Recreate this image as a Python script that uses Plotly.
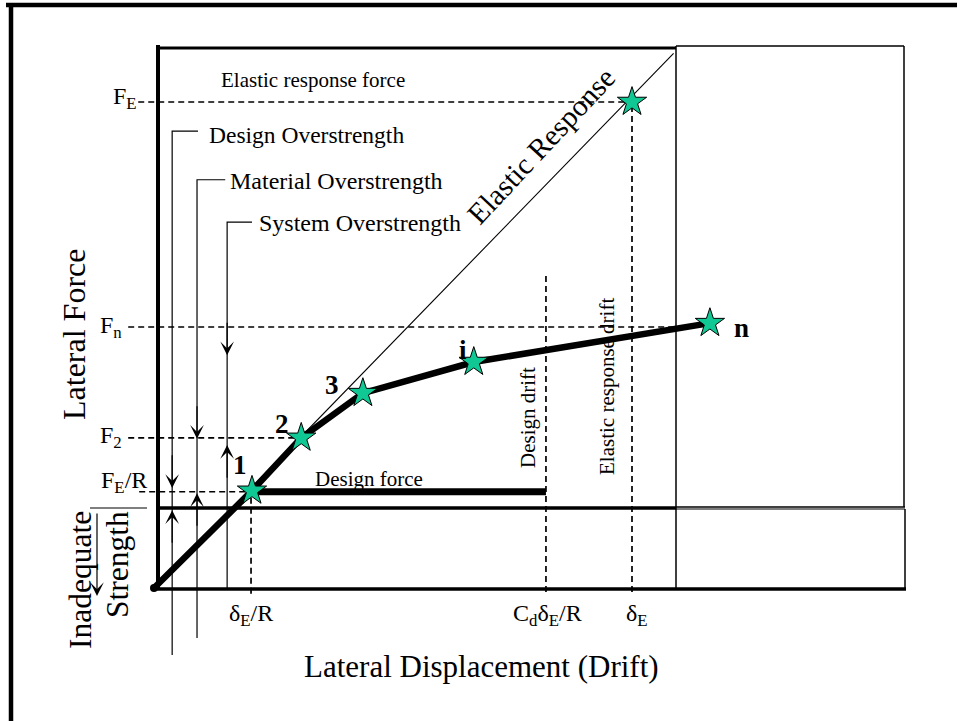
import plotly.graph_objects as go

# ---------------- data (drift normalised by delta_E, force normalised by F_E) -------------
point_labels = ["1", "2", "3", "i", "n"]
point_drift = [0.205, 0.308, 0.437, 0.669, 1.163]
point_force = [0.200, 0.309, 0.401, 0.465, 0.545]

curve_drift = [0.0] + point_drift
curve_force = [0.0] + point_force

elastic_drift = [0.0, 1.087]
elastic_force = [0.0, 1.100]
elastic_point_drift = [1.0]
elastic_point_force = [1.0]

design_force_drift = [0.205, 0.820]
design_force_level = 0.198

force_tick_labels = ["F<sub>E</sub>", "F<sub>n</sub>", "F<sub>2</sub>", "F<sub>E</sub>/R"]
force_tick_values = [1.0, 0.537, 0.309, 0.198]
force_dash_start = [-0.033, -0.054, -0.054, -0.031]
force_dash_end = [1.0, 1.142, 0.308, 0.205]

drift_tick_labels = ["δ<sub>E</sub>/R", "C<sub>d</sub>δ<sub>E</sub>/R", "δ<sub>E</sub>"]
drift_tick_values = [0.203, 0.820, 1.0]
drift_dash_top = [0.198, 0.650, 1.0]
drift_dash_bottom = [-0.012, -0.008, -0.008]

over_labels = ["Design Overstrength", "Material Overstrength", "System Overstrength"]
over_x = [0.038, 0.090, 0.153]
over_top = [0.940, 0.840, 0.753]
over_bottom = [-0.138, -0.103, 0.0]
over_down_tip = [0.206, 0.307, 0.479]
over_up_tip = [0.160, 0.195, 0.294]
over_bracket_end = [0.092, 0.149, 0.205]

# pixel frame of the drawing
W, H = 958, 721
X0_PX, Y0_PX = 154, 588      # origin in pixels
SX, SY = 478, 486            # pixels per unit
x_range = [(0 - X0_PX) / SX, (W - X0_PX) / SX]
y_range = [(Y0_PX - H) / SY, Y0_PX / SY]


def px2d(px):
    return (px - X0_PX) / SX


def py2f(py):
    return (Y0_PX - py) / SY


FONT = "Liberation Serif, Times New Roman, serif"
BLACK = "#000000"
STAR = "#10C894"

fig = go.Figure()

# frame of the diagram (decoration) -------------------------------------------------
frame_lines = [
    # (x0px, y0px, x1px, y1px, width)
    (6, 5, 957, 5, 4.5),          # outer top
    (11, 3, 11, 721, 4.5),        # outer left
    (158, 45, 158, 590, 4),       # main box left
    (157, 48, 676, 48, 3),        # main box top
    (676, 46, 676, 590, 1.5),     # divider
    (676, 46, 904, 46, 1.5),      # right box top
    (904, 46, 904, 507, 1.5),     # right box right
    (676, 507, 905, 507, 1.5),
    (905, 509, 905, 590, 1.5),
    (676, 509, 905, 509, 1.2),
    (156, 508, 676, 508, 3.5),    # strength line
    (154, 589, 906, 589, 3.5),    # bottom line
    (90, 508, 147, 508, 1.2),     # inadequate bracket
]
for x0, y0, x1, y1, w in frame_lines:
    fig.add_shape(type="line", xref="x", yref="y",
                  x0=px2d(x0), y0=py2f(y0), x1=px2d(x1), y1=py2f(y1),
                  line=dict(color=BLACK, width=w), layer="below")

# dashed guide lines
for lvl, s, e in zip(force_tick_values, force_dash_start, force_dash_end):
    fig.add_trace(go.Scatter(x=[s, e], y=[lvl, lvl], mode="lines",
                             line=dict(color=BLACK, width=1.7, dash="6px,4px"),
                             hoverinfo="skip"))
for xv, t, b in zip(drift_tick_values, drift_dash_top, drift_dash_bottom):
    fig.add_trace(go.Scatter(x=[xv, xv], y=[b, t], mode="lines",
                             line=dict(color=BLACK, width=1.7, dash="6px,4px"),
                             hoverinfo="skip"))

# overstrength measuring lines
for xv, top, bot, bend in zip(over_x, over_top, over_bottom, over_bracket_end):
    fig.add_trace(go.Scatter(x=[bend, xv, xv], y=[top, top, bot], mode="lines",
                             line=dict(color=BLACK, width=1.2), hoverinfo="skip"))

# elastic response line
fig.add_trace(go.Scatter(x=elastic_drift, y=elastic_force, mode="lines",
                         line=dict(color=BLACK, width=1.1), hoverinfo="skip"))

# design force plateau
fig.add_trace(go.Scatter(x=design_force_drift, y=[design_force_level] * 2, mode="lines",
                         line=dict(color=BLACK, width=7), hoverinfo="skip"))

# pushover curve
fig.add_trace(go.Scatter(x=curve_drift, y=curve_force, mode="lines",
                         line=dict(color=BLACK, width=6.5), hoverinfo="skip"))
fig.add_trace(go.Scatter(x=[0], y=[0], mode="markers",
                         marker=dict(color=BLACK, size=8), hoverinfo="skip"))

# stars
fig.add_trace(go.Scatter(x=point_drift + elastic_point_drift,
                         y=point_force + elastic_point_force, mode="markers",
                         marker=dict(symbol="star", size=22, color=STAR,
                                     line=dict(color=BLACK, width=1)),
                         hoverinfo="skip"))

ann = []


def text(x, y, s, size, xanchor="center", yanchor="middle", angle=0, bold=False):
    if bold:
        s = "<b>" + s + "</b>"
    ann.append(dict(x=x, y=y, xref="x", yref="y", text=s, showarrow=False,
                    xanchor=xanchor, yanchor=yanchor, textangle=angle,
                    font=dict(family=FONT, size=size, color=BLACK)))


def arrow(x, tip, tail):
    ann.append(dict(x=x, y=tip, ax=x, ay=tail, xref="x", yref="y", axref="x", ayref="y",
                    text="", showarrow=True, arrowhead=3, arrowsize=1.9, arrowwidth=1.2,
                    arrowcolor=BLACK, standoff=0))


# overstrength arrows
for xv, dt, ut in zip(over_x, over_down_tip, over_up_tip):
    arrow(xv, dt, dt + 0.07)
    arrow(xv, ut, ut - 0.07)
arrow(px2d(97), py2f(596), py2f(512))

# labels
text(px2d(207), py2f(135), over_labels[0], 23.5, xanchor="left")
text(px2d(228), py2f(181), over_labels[1], 24, xanchor="left")
text(px2d(257), py2f(223), over_labels[2], 24, xanchor="left")
text(px2d(219), py2f(80), "Elastic response force", 21, xanchor="left")
text(px2d(541), py2f(146), "Elastic Response", 29.5, angle=-47)
text(px2d(369), py2f(479), "Design force", 21)
text(px2d(528), py2f(418), "Design drift", 21, angle=-90)
text(px2d(607), py2f(387), "Elastic response drift", 21, angle=-90)

label_pos = [(240, 465), (282, 424), (332, 385), (463, 350), (741, 328)]
for lab, (lx, ly) in zip(point_labels, label_pos):
    text(px2d(lx), py2f(ly), lab, 27, bold=True)

force_label_pos = [(139, 98), (124, 327), (124, 437), (149, 482)]
for lab, (lx, ly) in zip(force_tick_labels, force_label_pos):
    text(px2d(lx), py2f(ly), lab, 24, xanchor="right")

drift_label_x = [251, 547, 637]
for lab, lx in zip(drift_tick_labels, drift_label_x):
    text(px2d(lx), py2f(615), lab, 24)

text(px2d(481), py2f(666), "Lateral Displacement (Drift)", 31)
text(px2d(74), py2f(335), "Lateral Force", 32, angle=-90)
text(px2d(80), py2f(580), "Inadequate", 31.5, angle=-90)
text(px2d(117), py2f(565), "Strength", 31.5, angle=-90)

fig.update_layout(
    width=W, height=H,
    margin=dict(l=0, r=0, t=0, b=0),
    paper_bgcolor="white", plot_bgcolor="white",
    showlegend=False,
    xaxis=dict(range=x_range, visible=False, showgrid=False, zeroline=False, fixedrange=True),
    yaxis=dict(range=y_range, visible=False, showgrid=False, zeroline=False, fixedrange=True),
    annotations=ann,
)

fig.write_html("out.html", config={"displayModeBar": False},
               post_script="document.body.style.margin='0';")
